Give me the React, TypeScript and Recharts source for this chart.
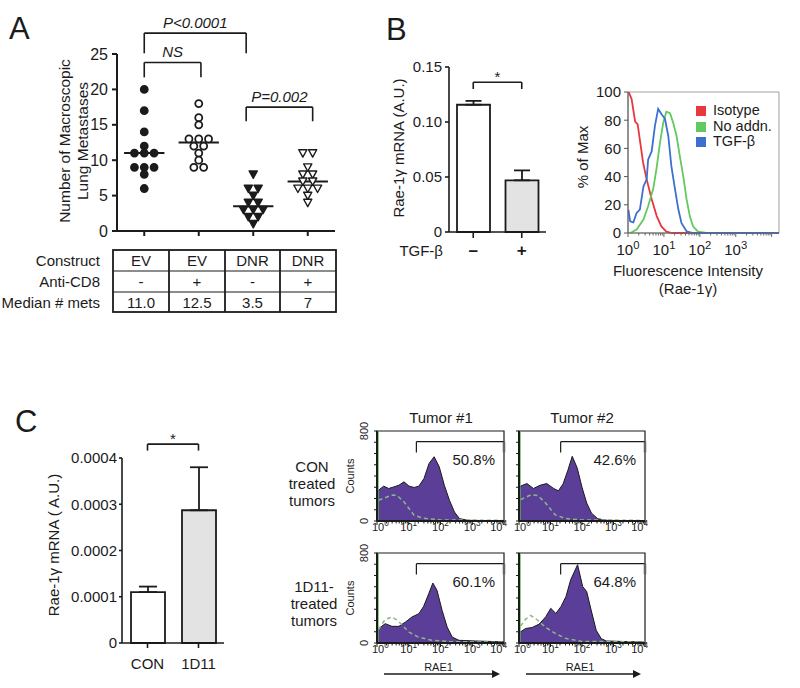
import React from 'react'
import {
  ScatterChart, Scatter, BarChart, Bar, ErrorBar, Cell, LineChart, Line, ComposedChart, Area,
  XAxis, YAxis, ReferenceLine, ReferenceArea, Legend,
} from 'recharts'

const FONT = '"Liberation Sans", Arial, Helvetica, sans-serif'
const INK = '#1b1b1b'
const PURPLE = '#5a3e97'
const RED = '#e8383d'
const GREEN = '#62c95f'
const BLUE = '#3d6fcf'

// A - macroscopic lung metastases per mouse
const metsEV = [20, 17, 14, 12, 11, 11, 11, 9, 9, 9, 8, 6]
const metsEVcd8 = [18, 16, 15, 13, 13, 13, 12, 12, 11, 10, 9, 9]
const metsDNR = [8, 6, 6, 5, 4, 4, 3, 3, 3, 2, 2, 1]
const metsDNRcd8 = [11, 11, 9, 8, 8, 7, 7, 6, 6, 6, 5, 4]
const mediansA = [11, 12.5, 3.5, 7]
const ticksA = [0, 5, 10, 15, 20, 25]
const tableRows = ['Construct', 'Anti-CD8', 'Median # mets']
const constructRow = ['EV', 'EV', 'DNR', 'DNR']
const cd8Row = ['-', '+', '-', '+']
const medianRow = ['11.0', '12.5', '3.5', '7']
const bracketsA = [
  { from: 1, to: 2.87, top: 27.95, foot: 25.1, text: 'P<0.0001' },
  { from: 1, to: 2.04, top: 23.8, foot: 21.7, text: 'NS' },
  { from: 2.87, to: 4.09, top: 17.5, foot: 15.5, text: 'P=0.002' },
]

// B - Rae-1g qPCR
const tgfLevels = ['–', '+']
const raeB = [0.1157, 0.047]
const raeErrB = [0.0035, 0.009]
const ticksB = [0, 0.05, 0.1, 0.15]

// B - flow histogram (intensity, % of max)
type Pt = [number, number]
const isoB: Pt[] = [[1.05, 100], [1.26, 95], [1.58, 79], [1.86, 77], [2.14, 66], [2.63, 50], [3.31, 38], [4.57, 24], [6.3, 12], [8.5, 4.7], [11.7, 1], [17, 0], [16000, 0]]
const noAddnB: Pt[] = [[1.15, 0], [1.74, 2.4], [2.69, 9.5], [3.63, 19], [5, 31], [6.17, 45], [7.76, 64], [9.55, 78], [11.7, 86], [14.8, 85], [18.2, 78], [22.4, 69], [27.5, 55], [34.7, 40], [42.7, 24], [52.5, 12], [64.6, 4.7], [89, 1], [155, 0], [16000, 0]]
const tgfB: Pt[] = [[1.02, 16.6], [1.15, 8.3], [1.41, 7.6], [1.74, 14.2], [2.14, 16.6], [2.69, 33], [3.31, 38], [3.63, 52], [4.57, 58], [5.62, 76], [6.92, 88], [8.71, 84], [10.7, 81], [13.2, 69], [16.2, 47], [20.4, 31], [25.1, 17], [30.9, 7], [42.7, 1.2], [64.6, 0], [16000, 0]]
const ticksFlowB = [0, 20, 40, 60, 80, 100]

// C - Rae-1g qPCR in tumors
const treatC = ['CON', '1D11']
const raeC = [0.00011, 0.000287]
const raeErrC = [0.000012, 0.000093]
const ticksC = [0, 0.0001, 0.0002, 0.0003, 0.0004]

// C - RAE1 flow histograms (intensity, counts)
const histCon1: Pt[] = [[1, 250], [1.12, 274], [1.62, 310], [2.34, 289], [3.39, 303], [4.9, 318], [7.08, 348], [10.2, 310], [14.8, 298], [20.9, 310], [30.2, 378], [43.7, 512], [63.1, 571], [91.2, 482], [132, 318], [191, 185], [275, 80], [398, 21], [741, 6], [5012, 3], [10000, 2]]
const isoCon1: Pt[] = [[1.12, 185], [2.95, 230], [4.27, 228], [7.08, 170], [14.8, 50], [30.2, 24], [100, 10], [1000, 8], [10000, 5]]
const histCon2: Pt[] = [[1, 270], [1.12, 310], [1.78, 333], [2.88, 289], [4.68, 318], [7.59, 333], [12.6, 289], [17.8, 268], [25.1, 330], [35.5, 450], [49, 575], [70.8, 470], [100, 300], [141, 160], [200, 70], [316, 20], [631, 6], [5012, 3], [10000, 2]]
const isoCon2: Pt[] = [[1.12, 190], [2.5, 235], [4, 225], [7, 160], [14, 55], [30, 22], [100, 10], [1000, 8], [10000, 5]]
const hist1D11a: Pt[] = [[1, 110], [1.12, 128], [1.82, 172], [2.95, 148], [4.9, 148], [7.94, 187], [12.6, 231], [20.9, 261], [29.5, 326], [42.7, 439], [57.5, 533], [77.6, 468], [112, 291], [162, 142], [234, 53], [380, 24], [1259, 18], [10000, 10]]
const iso1D11a: Pt[] = [[1.12, 120], [1.8, 210], [2.95, 231], [4.5, 200], [10, 98], [20, 53], [54, 24], [200, 12], [1000, 10], [10000, 6]]
const hist1D11b: Pt[] = [[1, 90], [1.12, 99], [1.62, 129], [2.63, 138], [4.37, 168], [7.08, 233], [10.2, 308], [14.8, 263], [21.4, 323], [30.9, 412], [43.7, 562], [72.4, 696], [105, 502], [141, 457], [195, 293], [282, 114], [407, 39], [589, 18], [10000, 8]]
const iso1D11b: Pt[] = [[1.12, 150], [1.6, 210], [2.34, 245], [4, 200], [7.08, 138], [14.8, 82], [31.6, 39], [100, 14], [1000, 12], [10000, 8]]
const gatesC = [17.4, 21, 17.4, 21]
const pctC = ['50.8%', '42.6%', '60.1%', '64.8%']
const tumorTitles = ['Tumor #1', 'Tumor #2']
const rowTitles = [['CON', 'treated', 'tumors'], ['1D11-', 'treated', 'tumors']]
const countTicks = [0, 100, 200, 300, 400, 500, 600, 700, 800]
const decades = [0, 1, 2, 3, 4]
const minorSteps = [1, 2, 3, 4, 5, 6, 7, 8, 9]
const logTicks = decades.flatMap((d) => (d < 4 ? minorSteps : [1]).map((m) => m * 10 ** d))

const swarm = (vals: number[], g: number) => {
  const count: Record<number, number> = {}
  const seen: Record<number, number> = {}
  vals.forEach((v) => (count[v] = (count[v] || 0) + 1))
  return vals.map((v) => {
    seen[v] = (seen[v] ?? -1) + 1
    return { x: g + (seen[v] - (count[v] - 1) / 2) * 0.18, y: v }
  })
}

const merge = (series: Record<string, Pt[]>) => {
  const rows = new Map<number, Record<string, number>>()
  for (const [key, pts] of Object.entries(series))
    for (const [x, y] of pts) {
      const row = rows.get(x) ?? { x }
      row[key] = y
      rows.set(x, row)
    }
  return [...rows.values()].sort((a, b) => a.x - b.x)
}

const VText = ({ x, y, size = 15, children }: any) => (
  <text x={x} y={y} transform={`rotate(-90 ${x} ${y})`} textAnchor="middle" dominantBaseline="central" fontSize={size} fill={INK}>
    {children}
  </text>
)

const dotShape = (filled: boolean) => (p: any) => (
  <circle cx={p.cx} cy={p.cy} r={3.5} fill={filled ? INK : '#fff'} stroke={INK} strokeWidth={1.8} />
)
const triShape = (filled: boolean) => (p: any) => (
  <path d={`M${p.cx - 4.1},${p.cy - 3.4}L${p.cx + 4.1},${p.cy - 3.4}L${p.cx},${p.cy + 4}Z`} fill={filled ? INK : '#fff'} stroke={INK} strokeWidth={1.4} strokeLinejoin="round" />
)

const bracket = (key: string, x1: any, x2: any, top: number, foot: number, text: string, italic: boolean) => [
  <ReferenceLine key={key + 'a'} segment={[{ x: x1, y: foot }, { x: x1, y: top }]} stroke={INK} strokeWidth={1.6} ifOverflow="visible" />,
  <ReferenceLine key={key + 'b'} segment={[{ x: x1, y: top }, { x: x2, y: top }]} stroke={INK} strokeWidth={1.6} ifOverflow="visible"
    label={{ value: text, position: 'top', offset: italic ? 5 : 0, fill: INK, fontSize: 15, fontStyle: italic ? 'italic' : 'normal' }} />,
  <ReferenceLine key={key + 'c'} segment={[{ x: x2, y: top }, { x: x2, y: foot }]} stroke={INK} strokeWidth={1.6} ifOverflow="visible" />,
]

// edges: nudge the first/last decade labels inward so neighbouring panels don't collide
const logTick = (fs: number, show: number[], color: string, base: number, edges = false) => (p: any) => {
  const { x, y, payload } = p
  const lg = Math.log10(payload.value)
  const e = Math.round(lg)
  const major = Math.abs(lg - e) < 1e-6
  let anchor = 'middle'
  let tx = x
  if (edges && e === 0) { anchor = 'start'; tx = x - 5 }
  if (edges && e === 4) { anchor = 'end'; tx = x + 3 }
  return (
    <g>
      <line x1={x} x2={x} y1={y} y2={y + (major ? 4 : 2.5)} stroke={color} strokeWidth={1} />
      {major && show.includes(e) && (
        <text x={tx} y={y + base} textAnchor={anchor} fontSize={fs} fill={INK}>
          10<tspan dy={-fs * 0.42} fontSize={fs * 0.75}>{e}</tspan>
        </text>
      )}
    </g>
  )
}

const countTick = (labels: boolean) => (p: any) => {
  const { x, y, payload } = p
  const show = labels && (payload.value === 0 || payload.value === 800)
  return (
    <g>
      <line x1={x - 3} x2={x} y1={y} y2={y} stroke={INK} strokeWidth={1} />
      {show && <VText x={x - 13} y={y} size={11}>{payload.value}</VText>}
    </g>
  )
}

const PanelA = () => (
  <div style={{ position: 'absolute', left: 0, top: 0 }}>
    <ScatterChart width={345} height={245} margin={{ top: 54, right: 10, bottom: 0, left: 0 }}>
      <XAxis type="number" dataKey="x" domain={[0.5, 4.5]} ticks={[1, 2, 3, 4]} interval={0} tickFormatter={() => ''}
        height={14} stroke={INK} strokeWidth={2} tickSize={5} />
      <YAxis type="number" dataKey="y" domain={[0, 25]} ticks={ticksA} interval={0} width={117} stroke={INK} strokeWidth={2}
        tickSize={5} tickMargin={4} tick={{ fontSize: 16, fill: INK }}
        label={() => (
          <g>
            <VText x={64} y={141} size={15.5}>Number of Macroscopic</VText>
            <VText x={82} y={141} size={15.5}>Lung Metastases</VText>
          </g>
        )} />
      <Scatter data={swarm(metsEV, 1)} shape={dotShape(true)} isAnimationActive={false} />
      <Scatter data={swarm(metsEVcd8, 2)} shape={dotShape(false)} isAnimationActive={false} />
      <Scatter data={swarm(metsDNR, 3)} shape={triShape(true)} isAnimationActive={false} />
      <Scatter data={swarm(metsDNRcd8, 4)} shape={triShape(false)} isAnimationActive={false} />
      {mediansA.map((m, i) => (
        <ReferenceLine key={'m' + i} segment={[{ x: i + 1 - 0.37, y: m }, { x: i + 1 + 0.37, y: m }]} stroke={INK} strokeWidth={2} />
      ))}
      {bracketsA.flatMap((b, i) => bracket('a' + i, b.from, b.to, b.top, b.foot, b.text, true))}
    </ScatterChart>
  </div>
)

const dataB = tgfLevels.map((name, i) => ({ name, v: raeB[i], err: [0, raeErrB[i]] }))
const fillsB = ['#ffffff', '#e3e3e3']

const PanelBBar = () => (
  <div style={{ position: 'absolute', left: 370, top: 0 }}>
    <BarChart width={185} height={262} data={dataB} margin={{ top: 67, right: 9, bottom: 0, left: 0 }}>
      <XAxis dataKey="name" height={30} stroke={INK} strokeWidth={1.6} tickSize={6} tickMargin={6}
        tick={{ fontSize: 17, fontWeight: 700, fill: INK }}
        label={() => <text x={73} y={250} textAnchor="end" dominantBaseline="central" fontSize={15} fill={INK}>TGF-β</text>} />
      <YAxis type="number" domain={[0, 0.15]} ticks={ticksB} interval={0} width={79} stroke={INK} strokeWidth={1.6}
        tickSize={4} tickMargin={3} tick={{ fontSize: 15, fill: INK }}
        tickFormatter={(v: number) => (v === 0 ? '0' : v.toFixed(2))}
        label={() => <VText x={28} y={148}>Rae-1γ mRNA (A.U.)</VText>} />
      <Bar dataKey="v" barSize={33} stroke={INK} strokeWidth={1.8} isAnimationActive={false}>
        {dataB.map((d, i) => <Cell key={d.name} fill={fillsB[i]} />)}
        <ErrorBar dataKey="err" direction="y" width={8} stroke={INK} strokeWidth={1.8} />
      </Bar>
      {bracket('b', tgfLevels[0], tgfLevels[1], 0.1362, 0.13, '*', false)}
    </BarChart>
  </div>
)

const dataFlowB = merge({ iso: isoB, none: noAddnB, tgf: tgfB })

const PanelBFlow = () => (
  <div style={{ position: 'absolute', left: 560, top: 80 }}>
    <LineChart width={230} height={225} data={dataFlowB} margin={{ top: 12, right: 11, bottom: 0, left: 0 }}>
      <XAxis type="number" dataKey="x" scale="log" domain={[1, 16000]} allowDataOverflow ticks={logTicks} interval={0}
        tickLine={false} tickSize={0} tickMargin={0} height={72} stroke="#666" tick={logTick(15, [0, 1, 2, 3], '#666', 22)}
        label={() => (
          <g>
            <text x={128} y={190} textAnchor="middle" dominantBaseline="central" fontSize={15} fill={INK}>Fluorescence Intensity</text>
            <text x={128} y={208} textAnchor="middle" dominantBaseline="central" fontSize={15} fill={INK}>(Rae-1γ)</text>
          </g>
        )} />
      <YAxis type="number" domain={[0, 100]} ticks={ticksFlowB} interval={0} width={68} stroke="#555"
        tickSize={4} tickMargin={3} tick={{ fontSize: 15, fill: INK }}
        label={() => <VText x={22} y={77}>% of Max</VText>} />
      <ReferenceArea x1={1} x2={16000} y1={0} y2={100} fill="none" stroke="#a0a0a0" strokeWidth={1} ifOverflow="visible" />
      <Line dataKey="iso" name="Isotype" type="linear" stroke={RED} strokeWidth={1.8} dot={false} connectNulls legendType="square" isAnimationActive={false} />
      <Line dataKey="none" name="No addn." type="linear" stroke={GREEN} strokeWidth={1.8} dot={false} connectNulls legendType="square" isAnimationActive={false} />
      <Line dataKey="tgf" name="TGF-β" type="linear" stroke={BLUE} strokeWidth={1.8} dot={false} connectNulls legendType="square" isAnimationActive={false} />
      <Legend layout="vertical" align="center" verticalAlign="middle" iconType="square" iconSize={10}
        wrapperStyle={{ left: 136, top: 23, width: 'auto', fontSize: 14.5, lineHeight: '15.5px' }}
        formatter={(v: string) => <span style={{ color: INK, marginLeft: 3 }}>{v}</span>} />
    </LineChart>
  </div>
)

const dataC = treatC.map((name, i) => ({ name, v: raeC[i], err: [0, raeErrC[i]] }))
const fillsC = ['#ffffff', '#e3e3e3']

const PanelCBar = () => (
  <div style={{ position: 'absolute', left: 0, top: 425 }}>
    <BarChart width={235} height={250} data={dataC} margin={{ top: 33, right: 11, bottom: 0, left: 0 }}>
      <XAxis dataKey="name" height={32} stroke={INK} strokeWidth={1.6} tickSize={5} tickMargin={10}
        tick={{ fontSize: 15, fill: INK }} />
      <YAxis type="number" domain={[0, 0.0004]} ticks={ticksC} interval={0} width={122} stroke={INK} strokeWidth={1.6}
        tickSize={3} tickMargin={2} tick={{ fontSize: 15, fill: INK }}
        tickFormatter={(v: number) => (v === 0 ? '0' : v.toFixed(4))}
        label={() => <VText x={53} y={120}>Rae-1γ mRNA ( A.U.)</VText>} />
      <Bar dataKey="v" barSize={34} stroke={INK} strokeWidth={1.8} isAnimationActive={false}>
        {dataC.map((d, i) => <Cell key={d.name} fill={fillsC[i]} />)}
        <ErrorBar dataKey="err" direction="y" width={9} stroke={INK} strokeWidth={1.8} />
      </Bar>
      {bracket('c', treatC[0], treatC[1], 0.00043, 0.000416, '*', false)}
    </BarChart>
  </div>
)

type PanelProps = { hist: Pt[]; iso: Pt[]; gate: number; pct: string; col: number; row: number }

const FlowPanel = ({ hist, iso, gate, pct, col, row }: PanelProps) => {
  const L = col === 0 ? 270 : 505
  const W = col === 0 ? 245 : 150
  const yw = col === 0 ? 107 : 14
  const mr = col === 0 ? 11 : 10
  const mt = 16
  const T = (row === 0 ? 431 : 553) - mt
  const H = mt + 90 + (row === 0 ? 19 : 39)
  const xh = row === 0 ? 19 : 39
  const plotW = W - yw - mr
  const plotB = H - xh
  const data = merge({ hist, iso })
  return (
    <div style={{ position: 'absolute', left: L, top: T }}>
      <ComposedChart width={W} height={H} data={data} margin={{ top: mt, right: mr, bottom: 0, left: 0 }}>
        <XAxis type="number" dataKey="x" scale="log" domain={[1, 10000]} allowDataOverflow ticks={logTicks} interval={0}
          tickLine={false} tickSize={0} tickMargin={0} height={xh} stroke={INK} strokeWidth={2}
          tick={logTick(11, decades, INK, 9.5, true)}
          label={row === 1 ? () => (
            <g>
              <text x={yw + plotW / 2 - 2} y={plotB + 24} textAnchor="middle" dominantBaseline="central" fontSize={11} fill={INK}>RAE1</text>
              <line x1={yw + 7} x2={yw + plotW - 10} y1={plotB + 31} y2={plotB + 31} stroke={INK} strokeWidth={1.6} />
              <path d={`M${yw + plotW - 12},${plotB + 27}L${yw + plotW - 4},${plotB + 31}L${yw + plotW - 12},${plotB + 35}Z`} fill={INK} />
            </g>
          ) : undefined} />
        <YAxis type="number" domain={[0, 800]} ticks={countTicks} interval={0} tickLine={false} tickSize={0} tickMargin={0}
          tick={countTick(col === 0)} width={yw} stroke={INK} strokeWidth={2}
          label={col === 0 ? () => <VText x={80} y={mt + 45} size={11}>Counts</VText> : undefined} />
        <ReferenceArea x1={1} x2={10000} y1={0} y2={800} fill="none" stroke={INK} strokeWidth={1.2} ifOverflow="visible" />
        <Area dataKey="hist" type="linear" fill={PURPLE} fillOpacity={1} stroke={INK} strokeWidth={1} connectNulls isAnimationActive={false} />
        <Line dataKey="iso" type="linear" stroke="#8db684" strokeWidth={1.5} strokeDasharray="4 3" dot={false} connectNulls isAnimationActive={false} />
        <ReferenceLine x={1.07} stroke="#58b84a" strokeWidth={1.5} />
        <ReferenceLine segment={[{ x: gate, y: 610 }, { x: gate, y: 705 }]} stroke={INK} strokeWidth={1.2} />
        <ReferenceLine segment={[{ x: gate, y: 705 }, { x: 10000, y: 705 }]} stroke={INK} strokeWidth={1.2}
          label={() => <text x={yw + plotW - 9} y={mt + 28} textAnchor="end" dominantBaseline="central" fontSize={15} fill={INK}>{pct}</text>} />
        <ReferenceLine segment={[{ x: 10000, y: 610 }, { x: 10000, y: 705 }]} stroke="#666" strokeWidth={2.5} />
      </ComposedChart>
    </div>
  )
}

const flowC = [
  { hist: histCon1, iso: isoCon1, col: 0, row: 0 },
  { hist: histCon2, iso: isoCon2, col: 1, row: 0 },
  { hist: hist1D11a, iso: iso1D11a, col: 0, row: 1 },
  { hist: hist1D11b, iso: iso1D11b, col: 1, row: 1 },
]

const colsT = [113, 169, 225, 280, 336]
const rowsT = [250, 271, 292, 312]

const Overlay = () => (
  <svg width={800} height={688} style={{ position: 'absolute', left: 0, top: 0 }} fill={INK}>
    <text x={9} y={39} fontSize={31}>A</text>
    <text x={386} y={40} fontSize={31}>B</text>
    <text x={15} y={432} fontSize={31}>C</text>
    <rect x={colsT[0]} y={rowsT[0]} width={colsT[4] - colsT[0]} height={rowsT[3] - rowsT[0]} fill="none" stroke={INK} strokeWidth={1.8} />
    {colsT.slice(1, 4).map((x) => <line key={'c' + x} x1={x} x2={x} y1={rowsT[0]} y2={rowsT[3]} stroke={INK} strokeWidth={1.8} />)}
    {rowsT.slice(1, 3).map((y) => <line key={'r' + y} x1={colsT[0]} x2={colsT[4]} y1={y} y2={y} stroke={INK} strokeWidth={1.2} />)}
    {tableRows.map((t, r) => (
      <text key={t} x={100} y={(rowsT[r] + rowsT[r + 1]) / 2} textAnchor="end" dominantBaseline="central" fontSize={15}>{t}</text>
    ))}
    {[constructRow, cd8Row, medianRow].map((vals, r) =>
      vals.map((v, c) => (
        <text key={r + '-' + c} x={(colsT[c] + colsT[c + 1]) / 2} y={(rowsT[r] + rowsT[r + 1]) / 2} textAnchor="middle" dominantBaseline="central" fontSize={15}>{v}</text>
      )),
    )}
    {tumorTitles.map((t, i) => (
      <text key={t} x={i === 0 ? 441 : 582} y={417} textAnchor="middle" dominantBaseline="central" fontSize={15}>{t}</text>
    ))}
    {rowTitles.map((lines, r) =>
      lines.map((l, k) => (
        <text key={r + l + k} x={r === 0 ? 312 : 314} y={(r === 0 ? 466 : 586) + k * 17} textAnchor="middle" dominantBaseline="central" fontSize={15}>{l}</text>
      )),
    )}
  </svg>
)

export default function App() {
  return (
    <div style={{ position: 'absolute', left: 0, top: 0, width: 800, height: 688, background: '#fff', overflow: 'hidden', fontFamily: FONT, color: INK }}>
      <PanelA />
      <PanelBBar />
      <PanelBFlow />
      <PanelCBar />
      {flowC.map((p, i) => (
        <FlowPanel key={i} hist={p.hist} iso={p.iso} gate={gatesC[i]} pct={pctC[i]} col={p.col} row={p.row} />
      ))}
      <Overlay />
    </div>
  )
}
